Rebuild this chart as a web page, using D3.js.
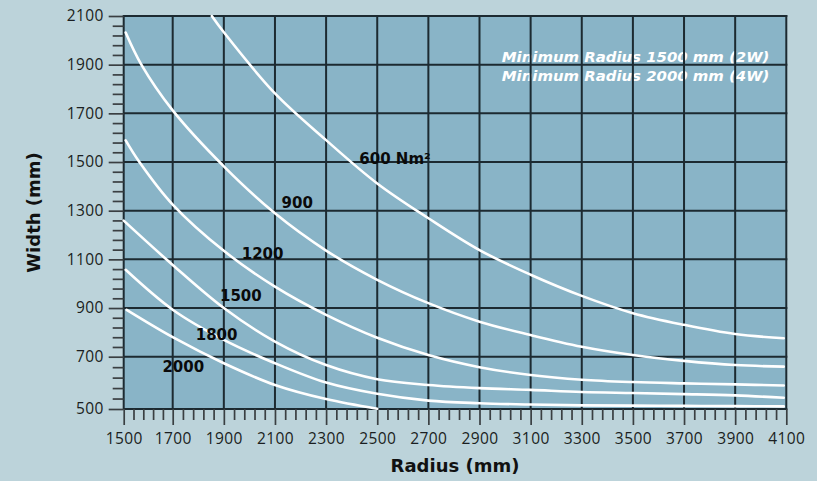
<!DOCTYPE html>
<html>
<head>
<meta charset="utf-8">
<script src="https://cdn.jsdelivr.net/npm/d3@7/dist/d3.min.js"></script>
<style>
  html, body { margin: 0; padding: 0; background: #bcd3da; }
  svg { display: block; }
</style>
</head>
<body>
<svg id="chart" width="817" height="481"></svg>
<script>
// ---- Data ----
const xTicks = [1500,1700,1900,2100,2300,2500,2700,2900,3100,3300,3500,3700,3900,4100];
const yTicks = [500,700,900,1100,1300,1500,1700,1900,2100];

const curve600  = [[1853,2100],[1900,2033],[2100,1782],[2300,1590],[2500,1412],[2700,1269],[2900,1138],[3100,1037],[3300,950],[3500,879],[3700,831],[3900,793],[4090,776]];
const curve900  = [[1508,2032],[1572,1900],[1700,1712],[1900,1482],[2100,1289],[2300,1136],[2500,1016],[2700,920],[2900,844],[3100,789],[3300,741],[3500,707],[3700,684],[3900,668],[4090,662]];
const curve1200 = [[1508,1589],[1564,1500],[1700,1325],[1900,1135],[2100,988],[2300,872],[2500,778],[2700,707],[2900,660],[3100,630],[3300,612],[3500,603],[3700,598],[3900,594],[4090,590]];
const curve1500 = [[1500,1259],[1700,1077],[1900,900],[2100,762],[2300,668],[2500,614],[2700,592],[2900,580],[3100,573],[3300,565],[3500,561],[3700,557],[3900,552],[4090,543]];
const curve1800 = [[1508,1057],[1700,893],[1900,769],[2100,675],[2300,601],[2500,558],[2700,532],[2900,522],[3100,517],[3300,514],[3500,513],[3700,512],[3900,511],[4090,510]];
const curve2000 = [[1512,892],[1700,780],[1900,675],[2100,592],[2300,538],[2500,501]];

const curveLabels = [
  {text: "600 Nm\u00B2", r: 2430, w: 1491},
  {text: "900",  r: 2126, w: 1312},
  {text: "1200", r: 1970, w: 1101},
  {text: "1500", r: 1885, w: 930},
  {text: "1800", r: 1790, w: 769},
  {text: "2000", r: 1658, w: 640}
];
const legendLines = [
  {text: "Minimum Radius 1500 mm (2W)", r: 4034, w: 1912},
  {text: "Minimum Radius 2000 mm (4W)", r: 4034, w: 1833}
];
const xTitle = "Radius (mm)";
const yTitle = "Width (mm)";

// ---- Scales ----
const x = d3.scaleLinear().domain([1500, 1700, 4100]).range([123.7, 172.7, 786.3]);
const y = d3.scaleLinear().domain([500, 700, 2100]).range([409, 356.7, 16]);

const svg = d3.select("#chart");

// plot background
svg.append("rect")
  .attr("x", x(1500)).attr("y", y(2100))
  .attr("width", x(4100) - x(1500)).attr("height", y(500) - y(2100))
  .attr("fill", "#89b4c7");

// legend text (under grid, as in the reference)
svg.append("g").selectAll("text").data(legendLines).join("text")
  .attr("x", d => x(d.r)).attr("y", d => y(d.w))
  .attr("text-anchor", "end")
  .attr("font-family", "DejaVu Sans")
  .attr("font-weight", "bold")
  .attr("font-style", "italic")
  .attr("font-size", 14.9)
  .attr("fill", "#ffffff")
  .text(d => d.text);

// grid
const grid = svg.append("g").attr("stroke", "#1c2a31").attr("stroke-width", 2);
grid.selectAll("line.v").data(xTicks).join("line").attr("class", "v")
  .attr("x1", d => x(d)).attr("x2", d => x(d))
  .attr("y1", y(2100) - 1).attr("y2", y(500));
grid.selectAll("line.h").data(yTicks).join("line").attr("class", "h")
  .attr("y1", d => y(d)).attr("y2", d => y(d))
  .attr("x1", x(1500)).attr("x2", x(4100) + 1);

// minor ticks
const minorX = d3.range(1500, 4101, 40).filter(v => (v - 1500) % 200 !== 0);
const minorY = d3.range(500, 2101, 40).filter(v => (v - 500) % 200 !== 0);

const xMinor = svg.append("g").attr("transform", `translate(0,${y(500)})`)
  .call(d3.axisBottom(x).tickValues(minorX).tickSize(11).tickFormat(""));
const yMinor = svg.append("g").attr("transform", `translate(${x(1500)},0)`)
  .call(d3.axisLeft(y).tickValues(minorY).tickSize(11).tickFormat(""));

const xAxis = svg.append("g").attr("transform", `translate(0,${y(500)})`)
  .call(d3.axisBottom(x).tickValues(xTicks).tickSize(16).tickPadding(8).tickFormat(d3.format("d")));
const yAxis = svg.append("g").attr("transform", `translate(${x(1500)},0)`)
  .call(d3.axisLeft(y).tickValues(yTicks).tickSize(15).tickPadding(5).tickFormat(d3.format("d")));

[xMinor, yMinor, xAxis, yAxis].forEach(g => {
  g.select(".domain").remove();
  g.selectAll(".tick line").attr("stroke", "#3a3f42").attr("stroke-width", 1.7);
  g.selectAll(".tick text")
    .attr("font-family", "Open Sans")
    .attr("font-size", 15.5)
    .attr("letter-spacing", 0.4)
    .attr("fill", "#1a1e21");
});

// curves
const line = d3.line().x(d => x(d[0])).y(d => y(d[1])).curve(d3.curveCatmullRom.alpha(0.5));
const curves = [curve600, curve900, curve1200, curve1500, curve1800, curve2000];
svg.append("g").selectAll("path").data(curves).join("path")
  .attr("d", line)
  .attr("fill", "none")
  .attr("stroke", "#ffffff")
  .attr("stroke-width", 2.6)
  .attr("stroke-linecap", "round");

// curve labels
svg.append("g").selectAll("text").data(curveLabels).join("text")
  .attr("x", d => x(d.r)).attr("y", d => y(d.w))
  .attr("font-family", "DejaVu Sans")
  .attr("font-weight", "bold")
  .attr("font-size", 15)
  .attr("fill", "#0a0a0a")
  .text(d => d.text);

// axis titles
svg.append("text")
  .attr("x", (x(1500) + x(4100)) / 2).attr("y", 471.5)
  .attr("text-anchor", "middle")
  .attr("font-family", "DejaVu Sans").attr("font-weight", "bold").attr("font-size", 18)
  .attr("fill", "#111").text(xTitle);
svg.append("text")
  .attr("transform", `translate(40,${(y(500) + y(2100)) / 2}) rotate(-90)`)
  .attr("text-anchor", "middle")
  .attr("font-family", "DejaVu Sans").attr("font-weight", "bold").attr("font-size", 18)
  .attr("fill", "#111").text(yTitle);
</script>
</body>
</html>
